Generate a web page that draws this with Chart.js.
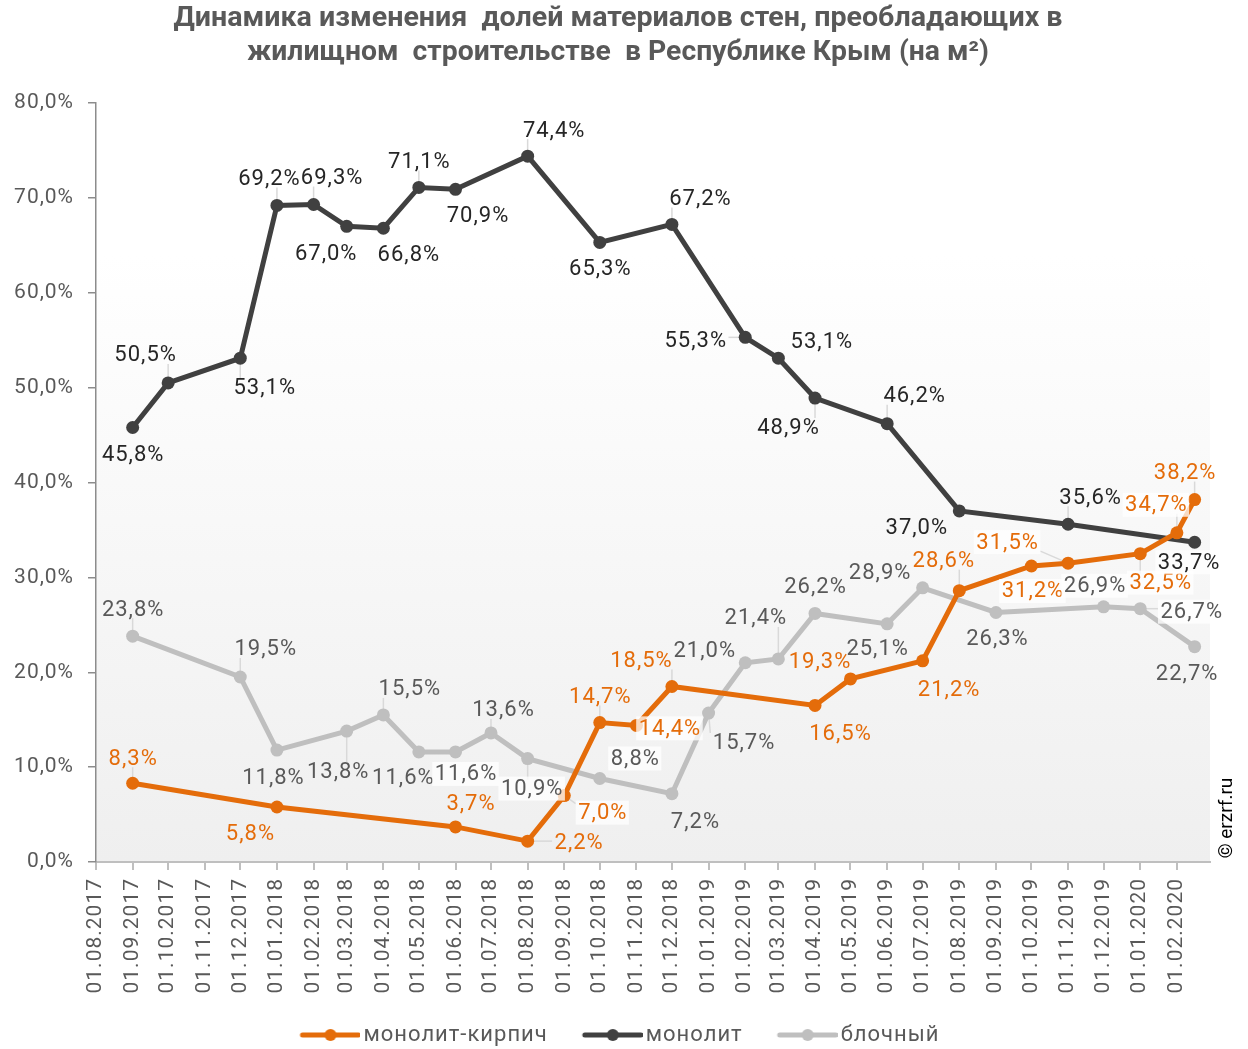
<!DOCTYPE html>
<html>
<head>
<meta charset="utf-8">
<script src="https://cdn.jsdelivr.net/npm/chart.js@4.4.1/dist/chart.umd.min.js"></script>
<style>
  html, body { margin: 0; padding: 0; background: #fff; }
  #wrap { width: 1248px; height: 1049px; position: relative; }
</style>
</head>
<body>
<div id="wrap"><canvas id="shareChart"></canvas></div>
<script>
// Доли материалов стен, Республика Крым

const titleLines = [
    'Динамика изменения  долей материалов стен, преобладающих в',
    'жилищном  строительстве  в Республике Крым (на м²)'
];

const seriesNames = ['монолит-кирпич', 'монолит', 'блочный'];

const tickLabels = [
    '01.08.2017', '01.09.2017', '01.10.2017', '01.11.2017', '01.12.2017',
    '01.01.2018', '01.02.2018', '01.03.2018', '01.04.2018', '01.05.2018', '01.06.2018',
    '01.07.2018', '01.08.2018', '01.09.2018', '01.10.2018', '01.11.2018', '01.12.2018',
    '01.01.2019', '01.02.2019', '01.03.2019', '01.04.2019', '01.05.2019', '01.06.2019',
    '01.07.2019', '01.08.2019', '01.09.2019', '01.10.2019', '01.11.2019', '01.12.2019',
    '01.01.2020', '01.02.2020'
];

const brickDates = ['01.09.2017', '01.01.2018', '01.06.2018', '01.08.2018', '01.09.2018', '01.10.2018',
    '01.11.2018', '01.12.2018', '01.04.2019', '01.05.2019', '01.07.2019', '01.08.2019',
    '01.10.2019', '01.11.2019', '01.01.2020', '01.02.2020', '16.02.2020'];
const brickValues = [8.3, 5.8, 3.7, 2.2, 7.0, 14.7, 14.4, 18.5, 16.5, 19.3, 21.2, 28.6,
    31.2, 31.5, 32.5, 34.7, 38.2];

const monoDates = ['01.09.2017', '01.10.2017', '01.12.2017', '01.01.2018', '01.02.2018', '01.03.2018',
    '01.04.2018', '01.05.2018', '01.06.2018', '01.08.2018', '01.10.2018', '01.12.2018',
    '01.02.2019', '01.03.2019', '01.04.2019', '01.06.2019', '01.08.2019', '01.11.2019', '16.02.2020'];
const monoValues = [45.8, 50.5, 53.1, 69.2, 69.3, 67.0, 66.8, 71.1, 70.9, 74.4, 65.3, 67.2,
    55.3, 53.1, 48.9, 46.2, 37.0, 35.6, 33.7];

const blockDates = ['01.09.2017', '01.12.2017', '01.01.2018', '01.03.2018', '01.04.2018', '01.05.2018',
    '01.06.2018', '01.07.2018', '01.08.2018', '01.10.2018', '01.12.2018', '01.01.2019',
    '01.02.2019', '01.03.2019', '01.04.2019', '01.06.2019', '01.07.2019', '01.09.2019',
    '01.12.2019', '01.01.2020', '16.02.2020'];
const blockValues = [23.8, 19.5, 11.8, 13.8, 15.5, 11.6, 11.6, 13.6, 10.9, 8.8, 7.2, 15.7,
    21.0, 21.4, 26.2, 25.1, 28.9, 26.3, 26.9, 26.7, 22.7];

// смещение подписей: [dx, dy, выноска, белая подложка]
const brickLabelPos = [
    [0, -25, 1, 0], [-27, 27, 0, 0], [15, -23, 0, 0], [51, 1, 1, 0], [38, 17, 1, 1], [0, -26, 1, 0],
    [33, 3, 0, 1], [-31, -26, 1, 0], [25, 28, 0, 0], [-31, -17, 0, 0], [26, 29, 0, 0], [-16, -30, 1, 0],
    [1, 25, 0, 1], [-61, -21, 1, 1], [20, 29, 1, 1], [-21, -28, 1, 1], [-10, -27, 1, 0]
];
const monoLabelPos = [
    [0, 27, 0, 0], [-23, -28, 1, 0], [24, 29, 1, 0], [-8, -27, 1, 0], [18, -27, 1, 0], [-21, 27, 0, 0],
    [25, 26, 0, 0], [0, -26, 1, 0], [22, 26, 0, 0], [26, -26, 1, 0], [0, 26, 0, 0], [28, -26, 1, 0],
    [-50, 3, 1, 0], [43, -17, 0, 0], [-27, 29, 1, 0], [27, -28, 1, 0], [-43, 17, 0, 0], [22, -27, 1, 0],
    [-6, 20, 0, 1]
];
const blockLabelPos = [
    [0, -27, 1, 0], [25, -28, 1, 0], [-4, 27, 0, 0], [-9, 40, 1, 0], [26, -26, 1, 0], [-16, 26, 0, 0],
    [10, 22, 0, 1], [12, -23, 1, 0], [4, 30, 1, 1], [35, -20, 0, 1], [23, 28, 0, 0], [35, 29, 1, 0],
    [-41, -12, 0, 0], [-23, -41, 1, 0], [0, -27, 0, 0], [-10, 25, 0, 0], [-43, -15, 0, 0], [1, 26, 0, 0],
    [-9, -21, 0, 1], [51, 3, 1, 1], [-8, 27, 0, 0]
];

const colors = ['#e46c0a', '#404040', '#bfbfbf'];
const labelColors = ['#e46c0a', '#262626', '#595959'];

// дни от 01.08.2017
function toDay(s) {
    const [d, m, y] = s.split('.').map(Number);
    return (Date.UTC(y, m - 1, d) - Date.UTC(2017, 7, 1)) / 86400000;
}

function toPoints(dates, values) {
    return dates.map((d, i) => ({ x: toDay(d), y: values[i] }));
}

function fmtPct(v) {
    return v.toFixed(1).replace('.', ',') + '%';
}

const tickDays = tickLabels.map(toDay);

// маркер легенды: линия с кружком (сдвинут вправо, ближе к тексту)
function legendMarker(color) {
    const c = document.createElement('canvas');
    c.width = 74;
    c.height = 14;
    const g = c.getContext('2d');
    g.strokeStyle = color;
    g.lineWidth = 5;
    g.lineCap = 'round';
    g.beginPath();
    g.moveTo(16, 7);
    g.lineTo(72, 7);
    g.stroke();
    g.fillStyle = color;
    g.beginPath();
    g.arc(44, 7, 6, 0, Math.PI * 2);
    g.fill();
    return c;
}

const makeDataset = (i, dates, values, pos) => ({
    label: seriesNames[i],
    data: toPoints(dates, values),
    borderColor: colors[i],
    backgroundColor: colors[i],
    borderWidth: 5,
    pointRadius: 6.5,
    pointBorderWidth: 0,
    pointBackgroundColor: colors[i],
    tension: 0,
    labelPos: pos,
    labelColor: labelColors[i]
});

// разрядка шрифта как в оригинале
const letterSpacing = {
    id: 'letterSpacing',
    beforeUpdate(chart) { chart.ctx.letterSpacing = '1px'; },
    beforeDraw(chart) { chart.ctx.letterSpacing = '1px'; }
};

// легенда чуть правее центра, как в оригинале
const legendShift = {
    id: 'legendShift',
    afterLayout(chart) {
        if (!chart.legend) return;
        chart.legend.left += 12;
        chart.legend.right += 12;
    }
};

// фон области построения
const plotBackground = {
    id: 'plotBackground',
    beforeDraw(chart) {
        const { ctx, chartArea: a } = chart;
        const grad = ctx.createLinearGradient(0, a.top, 0, a.bottom);
        grad.addColorStop(0, '#ffffff');
        grad.addColorStop(0.2, '#ffffff');
        grad.addColorStop(1, '#efefef');
        ctx.save();
        ctx.fillStyle = grad;
        ctx.fillRect(a.left, a.top, a.right - a.left, a.bottom - a.top);
        ctx.restore();
    }
};

function labelBox(ctx, pt, pos, text) {
    const w = ctx.measureText(text).width + 4;
    const h = 24;
    const cx = pt.x + pos[0], cy = pt.y + pos[1];
    return { x1: cx - w / 2, y1: cy - h / 2, x2: cx + w / 2, y2: cy + h / 2, cx, cy };
}

// подписи значений с выносками
const pointLabels = {
    id: 'pointLabels',
    beforeDatasetsDraw(chart) {
        const ctx = chart.ctx;
        ctx.save();
        ctx.font = '22px Roboto';
        ctx.strokeStyle = '#d9d9d9';
        ctx.lineWidth = 1.5;
        chart.data.datasets.forEach((ds, i) => {
            chart.getDatasetMeta(i).data.forEach((pt, j) => {
                const pos = ds.labelPos[j];
                if (!pos[2]) return;
                const b = labelBox(ctx, pt, pos, fmtPct(ds.data[j].y));
                const nx = Math.max(b.x1, Math.min(pt.x, b.x2));
                const ny = Math.max(b.y1 + 3, Math.min(pt.y, b.y2 - 3));
                ctx.beginPath();
                ctx.moveTo(pt.x, pt.y);
                ctx.lineTo(nx, ny);
                ctx.stroke();
            });
        });
        ctx.restore();
    },
    afterDatasetsDraw(chart) {
        const ctx = chart.ctx;
        ctx.save();
        ctx.font = '22px Roboto';
        ctx.textAlign = 'center';
        ctx.textBaseline = 'middle';
        chart.data.datasets.forEach((ds, i) => {
            chart.getDatasetMeta(i).data.forEach((pt, j) => {
                const pos = ds.labelPos[j];
                const text = fmtPct(ds.data[j].y);
                const b = labelBox(ctx, pt, pos, text);
                if (pos[3]) {
                    ctx.fillStyle = 'rgba(255,255,255,0.75)';
                    ctx.fillRect(b.x1, b.y1, b.x2 - b.x1, b.y2 - b.y1);
                }
                ctx.fillStyle = ds.labelColor;
                ctx.fillText(text, b.cx + 0.5, b.cy + 1);
            });
        });
        ctx.restore();
    }
};

// заголовок (сжатый по ширине) и знак источника
const chartTexts = {
    id: 'chartTexts',
    afterDraw(chart) {
        const ctx = chart.ctx;
        const widths = [889, 742];
        const rows = [19, 53];
        ctx.save();
        ctx.letterSpacing = '0px';
        ctx.fillStyle = '#595959';
        ctx.font = 'bold 27px Roboto';
        ctx.textAlign = 'center';
        ctx.textBaseline = 'middle';
        titleLines.forEach((line, i) => {
            const sx = widths[i] / ctx.measureText(line).width;
            ctx.save();
            ctx.translate(618, rows[i]);
            ctx.scale(sx, 1);
            ctx.fillText(line, 0, 0);
            ctx.restore();
        });

        ctx.translate(1227, 818);
        ctx.rotate(-Math.PI / 2);
        ctx.fillStyle = '#000';
        ctx.font = '19px Roboto';
        ctx.fillText('© erzrf.ru', 0, 0);
        ctx.restore();
    }
};

const ctx = document.getElementById('shareChart').getContext('2d');

new Chart(ctx, {
    type: 'line',
    data: {
        datasets: [
            makeDataset(0, brickDates, brickValues, brickLabelPos),
            makeDataset(1, monoDates, monoValues, monoLabelPos),
            makeDataset(2, blockDates, blockValues, blockLabelPos)
        ]
    },
    options: {
        responsive: true,
        maintainAspectRatio: false,
        animation: false,
        layout: {
            padding: { left: 0, right: 38, top: 103, bottom: -7 }
        },
        plugins: {
            title: { display: false },
            tooltip: { enabled: false },
            legend: {
                display: true,
                position: 'bottom',
                labels: {
                    usePointStyle: true,
                    pointStyleWidth: 58,
                    padding: 29,
                    color: '#595959',
                    font: { family: 'Roboto', size: 22 },
                    generateLabels(chart) {
                        return chart.data.datasets.map((ds, i) => ({
                            text: ds.label,
                            pointStyle: legendMarker(colors[i]),
                            fillStyle: colors[i],
                            strokeStyle: colors[i],
                            lineWidth: 0,
                            fontColor: '#595959',
                            datasetIndex: i
                        }));
                    }
                }
            }
        },
        scales: {
            x: {
                type: 'linear',
                min: 0,
                max: 942,
                afterFit(scale) { scale.height = 133; },
                afterBuildTicks(scale) {
                    scale.ticks = tickDays.map(v => ({ value: v }));
                },
                grid: {
                    drawOnChartArea: false,
                    drawTicks: true,
                    tickLength: 8,
                    color: '#bfbfbf',
                    lineWidth: 2
                },
                border: { color: '#bfbfbf', width: 2 },
                ticks: {
                    autoSkip: false,
                    maxRotation: 90,
                    minRotation: 90,
                    padding: 8,
                    color: '#595959',
                    font: { family: 'Roboto', size: 21 },
                    callback: (value, index) => tickLabels[index]
                }
            },
            y: {
                min: 0,
                max: 80,
                afterFit(scale) { scale.width = 96; },
                grid: {
                    drawOnChartArea: false,
                    drawTicks: true,
                    tickLength: 8,
                    color: '#8c8c8c',
                    lineWidth: 1.5
                },
                border: { color: '#8c8c8c', width: 1.5 },
                ticks: {
                    stepSize: 10,
                    padding: 14,
                    color: '#595959',
                    font: { family: 'Roboto', size: 21 },
                    callback: v => fmtPct(v)
                }
            }
        }
    },
    plugins: [letterSpacing, legendShift, plotBackground, pointLabels, chartTexts]
});
</script>
</body>
</html>
